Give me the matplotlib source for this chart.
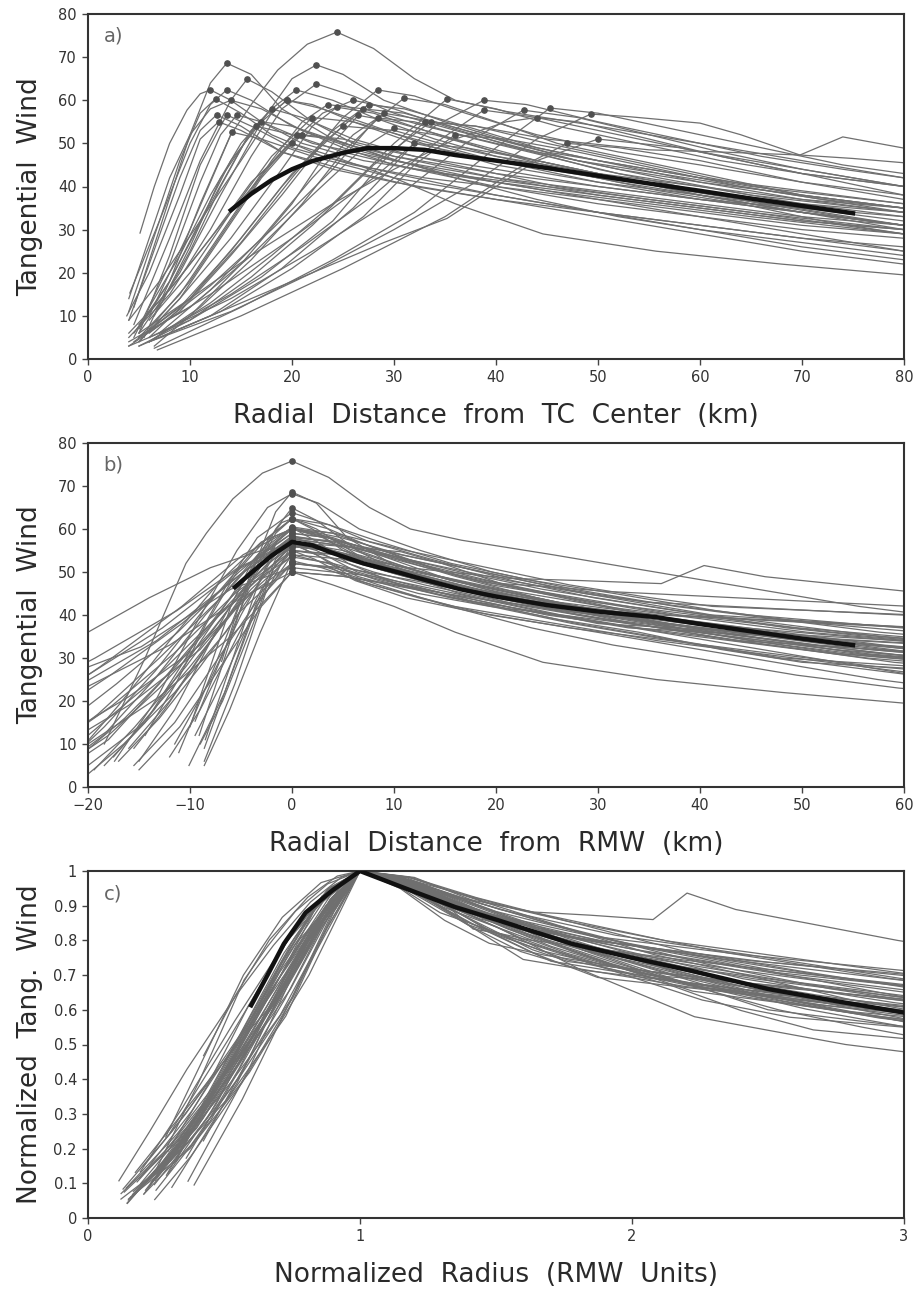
import numpy as np
import matplotlib.pyplot as plt

# storm profiles (tails beyond 80 km read off panels b and c):
# radius (km) knots and tangential wind knots
profile_r = [
    # small RMW storms
    [4.5, 7, 10, 12, 13.6, 16, 19, 24, 30, 40, 50, 60, 70, 80],
    [5.1, 6.5, 8, 9.7, 11, 12, 14, 17, 22, 30, 40, 50, 60, 70, 80],
    [4.1, 7, 10, 12, 13.6, 16, 20, 25, 30, 40, 50, 60, 70, 80],
    [4, 6, 9, 11, 12.5, 15, 18, 23, 30, 40, 50, 60, 70, 80],
    [4.5, 8, 11, 14, 15.6, 18, 22, 26, 30, 40, 50, 60, 70, 80],
    [4, 6, 9, 11, 12.6, 15, 19, 25, 32, 40, 50, 60, 70, 80],
    [5, 8, 11, 13.6, 16, 20, 26, 33, 40, 50, 60, 70, 80],
    [4.5, 8, 11, 13, 14.6, 17, 21, 27, 35, 45, 55, 65, 80],
    [5.5, 8, 11, 14.1, 17, 22, 30, 40, 50, 60, 70, 80],
    [3.8, 6, 9, 11, 12.8, 15, 19, 24, 30, 40, 50, 60, 70, 80],
    [5, 8, 11, 14, 17, 20, 25, 30, 40, 50, 60, 70, 80],
    [6.5, 10, 13, 16, 18, 21, 26, 32, 40, 50, 60, 70, 80],
    [4, 7, 11, 15, 18, 19.5, 22, 26, 32, 40, 50, 60, 70, 80],
    [7, 10, 13, 16.5, 20, 25, 32, 40, 50, 60, 70, 80],
    [4, 6, 8, 10, 12, 14, 17, 21, 27, 35, 45, 55, 65, 80],
    # medium RMW storms
    [6, 10, 14, 16, 18.6, 21.5, 24.4, 28, 32, 36, 41, 50, 60, 70, 80, 90],
    [5, 9, 13, 17, 20, 22.4, 25, 29, 35, 42, 50, 60, 70, 80, 90],
    [4, 8, 12, 16, 19, 22.4, 26, 30, 36, 44, 52, 60, 70, 80, 90],
    [6, 9, 12, 15, 18, 20.4, 24, 28, 34, 40, 50, 60, 70, 80, 90],
    [6, 10, 15, 20, 25, 28.4, 32, 37, 44, 52, 60, 70, 80, 90],
    [4.5, 8, 12, 16, 19.5, 23, 28, 34, 40, 50, 60, 70, 80],
    [5, 9, 14, 19, 22, 24.4, 28, 33, 40, 48, 56, 64, 72, 80, 90],
    [7, 12, 17, 22, 26, 28.4, 32, 38, 45, 52, 60, 70, 80, 90],
    [4, 10, 16, 22, 27, 30, 34, 40, 48, 56, 64, 72, 80, 95],
    [5, 9, 14, 19, 23, 26, 30, 35, 42, 50, 58, 66, 74, 80, 90],
    [6, 10, 14, 18, 22, 26, 32, 40, 50, 60, 70, 80, 90],
    [5, 10, 15, 20, 25, 30, 36, 44, 52, 60, 70, 80, 90],
    [4, 8, 12, 16, 21, 25, 30, 38, 46, 55, 65, 80, 90],
    [4, 9, 14, 19, 23, 27, 31, 37, 45, 55, 65, 80, 90],
    [6, 11, 16, 21, 25, 29, 34, 40, 48, 56, 65, 80, 95],
    [5, 9, 13, 17, 20, 24, 30, 36, 44.6, 55.7, 68, 80, 90],
    [6, 12, 18, 24, 28, 31, 35, 40, 46, 54, 62, 70, 80, 95],
    [6.5, 10, 15, 20, 24, 26.5, 30, 36, 44, 52, 60, 70, 80, 90],
    [5, 9, 13, 17, 20.5, 24, 29, 36, 44, 52, 60, 70, 80, 90],
    [6, 10, 14, 18, 21, 23.5, 27, 33, 40, 48, 56, 64, 72, 80, 90],
    [4.5, 9, 14, 19, 24, 27.5, 31, 37, 44, 52, 60, 70, 80, 90],
    # large RMW storms
    [6, 12, 18, 24, 30, 35.2, 40, 46, 54, 62, 70, 80, 95, 110],
    [5, 12, 20, 28, 34, 38.8, 43, 50, 58, 66, 74, 80, 100, 120],
    [7, 14, 21, 28, 34, 38.8, 44, 52, 60, 70, 80, 100, 120],
    [6, 14, 22, 30, 37, 42.7, 48, 55, 62, 70, 80, 105, 130],
    [6.5, 15, 24, 32, 40, 45.3, 50, 58, 66, 74, 80, 105, 140],
    [6, 14, 22, 30, 38, 44, 49.3, 53, 60, 64, 69.8, 75, 80, 110, 150],
    [5, 10, 16, 22, 28, 33.6, 38, 45, 55, 62, 69.8, 74, 80, 100, 110],
    [4, 10, 17, 24, 29, 33, 38, 45, 53, 61, 70, 80, 95, 100],
    [6, 13, 20, 27, 32, 36, 41, 48, 56, 64, 72, 80, 100, 110],
    [5, 12, 19, 26, 32, 37, 44, 52, 60, 70, 80, 100, 115],
    [6.8, 15, 25, 35, 42, 47, 52, 60, 70, 80, 110, 145],
    [8.7, 15, 22, 29, 35.2, 40, 44, 50, 58, 66, 74, 80, 110, 150],
    [5, 10, 16, 24, 30, 36, 41, 44, 48, 55, 62, 70, 80, 105, 135],
]
profile_v = [
    [12, 30, 52, 64, 68.6, 66, 58, 51, 46, 41, 38, 35, 32, 30],
    [29.2, 40, 50, 57.7, 61.5, 62.4, 60, 55, 50, 46, 42, 39, 36, 33, 31],
    [15.3, 32, 50, 59, 62.4, 60, 54, 49, 45, 40, 36, 33, 30, 28],
    [11, 25, 46, 57, 60.3, 57, 52, 47, 43, 38, 34, 30, 27, 24],
    [8, 28, 46, 60, 64.9, 62, 55, 50, 47, 43, 40, 37, 35, 33],
    [9, 22, 42, 53, 56.6, 54, 48, 44, 40, 37, 33, 29, 25, 22],
    [6, 24, 45, 56.6, 54, 49, 45, 42, 40, 37, 34, 31, 29],
    [5, 22, 41, 52, 56.6, 55, 50, 46, 43, 40, 37, 34, 30],
    [5, 18, 36, 52.6, 51, 47, 42, 38, 34, 31, 28, 25],
    [10, 20, 38, 51, 55, 53, 48, 44, 41, 37, 34, 31, 28, 26],
    [7, 18, 32, 46, 55, 54, 50, 47, 42, 38, 35, 32, 30],
    [10, 25, 40, 53, 58, 56, 51, 47, 44, 40, 37, 34, 31],
    [9, 18, 32, 46, 57, 60, 59, 55, 50, 46, 42, 39, 36, 34],
    [12, 26, 42, 54, 52, 48, 44, 41, 37, 33, 29, 25],
    [14, 28, 42, 52, 58, 60, 58, 53, 48, 43, 39, 36, 33, 29],
    [10, 30, 52, 59, 67, 73, 75.8, 72, 65, 60, 57.4, 54, 50, 46, 42, 39],
    [6, 20, 38, 55, 65, 68.2, 66, 60, 55, 50, 46, 42, 39, 36, 34],
    [5, 15, 30, 47, 58, 63.8, 61, 57, 53, 48, 44, 41, 38, 35, 33],
    [12, 24, 38, 50, 58, 62.4, 60, 56, 51, 47, 43, 40, 37, 35, 33],
    [5, 14, 27, 42, 56, 62.4, 61, 57, 52, 48, 45, 41, 38, 36],
    [6, 18, 36, 53, 60, 58, 54, 49, 45, 41, 38, 35, 32],
    [4, 14, 28, 44, 54, 58.4, 57, 53, 48, 44, 40, 37, 34, 31, 29],
    [6, 16, 28, 42, 52, 55.9, 55, 51, 47, 43, 40, 36, 33, 31],
    [4, 12, 24, 38, 49, 53.5, 52, 48, 43, 39, 36, 32, 29, 27],
    [8, 19, 34, 48, 57, 60, 58, 54, 49, 44, 40, 36, 33, 31, 29],
    [9, 20, 34, 47, 56, 55, 51, 46, 41, 37, 34, 31, 29],
    [5, 14, 28, 43, 54, 53, 49, 45, 41, 38, 34, 31, 29],
    [6, 16, 28, 41, 52, 51, 48, 44, 40, 37, 34, 29, 27],
    [3, 11, 24, 38, 50, 58, 57, 53, 48, 44, 40, 36, 34],
    [4, 12, 23, 36, 48, 57, 55, 51, 46, 42, 38, 34, 31],
    [4, 14, 28, 42, 50, 47, 42, 36, 29, 25, 22, 19.5, 18],
    [6, 17, 30, 44, 55, 60.5, 59, 55, 50, 46, 42, 38, 35, 33],
    [3, 10, 22, 36, 50, 56.5, 55, 51, 46, 42, 38, 34, 31, 29],
    [5, 15, 29, 43, 52, 51, 47, 42, 37, 33, 30, 26, 23, 21],
    [7, 18, 32, 46, 55, 59, 58, 54, 50, 46, 43, 40, 37, 35, 33],
    [4, 12, 25, 40, 53, 59, 58, 54, 49, 45, 41, 37, 34, 32],
    [4, 13, 24, 36, 50, 60.3, 58, 54, 50, 46, 43, 40, 37, 35],
    [5, 15, 28, 42, 54, 60, 59, 55, 51, 47, 44, 42, 40, 37],
    [6, 15, 26, 38, 50, 57.7, 56, 52, 48, 44, 40, 37, 34],
    [5, 14, 25, 37, 50, 57.7, 56, 52, 48, 44, 40, 37, 34],
    [2.5, 12, 23, 34, 49, 58.2, 57, 53, 49, 45, 43, 40, 36],
    [4, 11, 20, 30, 41, 51, 56.8, 56.2, 54.7, 52, 47.3, 46.5, 45.5, 42, 38],
    [3, 9, 19, 31, 45, 55, 54, 51, 48.5, 48, 47.3, 51.5, 48.9, 44, 42],
    [3, 9, 19, 32, 46, 55, 54, 50, 46, 42, 38, 35, 32, 31],
    [4, 11, 21, 33, 45, 52, 51, 48, 44, 40, 37, 34, 31, 30],
    [3, 10, 21, 35, 50, 49, 46, 42, 38, 34, 30, 27, 26],
    [2.1, 10, 21, 33, 44, 50, 49, 46, 41, 37, 33, 29],
    [6.7, 13, 20, 27, 32.6, 40, 46, 51, 49, 45, 41, 38, 34, 31],
    [6, 14, 24, 36, 44, 51, 55, 56, 55, 51, 47, 43, 40, 37, 34],
]

# composite mean profiles (thick black curves)
mean_a_r = [14, 16, 18, 20, 22, 25, 27.4, 30, 33, 36, 40, 45, 50, 55, 60, 65, 70, 75]
mean_a_v = [34.5, 38.3, 41.5, 44, 45.9, 47.8, 48.9, 48.9, 48.5, 47.3, 46, 44.3, 42.5,
            40.7, 39.0, 37.2, 35.5, 33.8]
mean_b_x = [-5.6, -4, -2, 0, 2, 4, 7, 10.6, 13, 16.5, 20, 25, 30, 35.7, 40, 45, 50, 55]
mean_b_v = [46.5, 49.8, 53.8, 57, 56.2, 54.4, 52, 49.8, 48.2, 46, 44.3, 42.3, 40.8,
            39.5, 37.9, 36.2, 34.5, 33]
mean_c_x = [0.6, 0.66, 0.72, 0.8, 0.9, 1.0, 1.1, 1.2, 1.35, 1.5, 1.78, 2.0, 2.21, 2.5,
            2.75, 3.0]
mean_c_v = [0.613, 0.70, 0.79, 0.88, 0.945, 1.0, 0.97, 0.94, 0.896, 0.86, 0.79, 0.75,
            0.714, 0.66, 0.625, 0.592]

LINE = "#6f6f6f"
TXT = "#2a2a2a"

fig = plt.figure(figsize=(9.16, 12.93), dpi=100)
W, H = 916, 1293
def box(top, bottom):
    return [88 / W, (H - bottom) / H, 816 / W, (bottom - top) / H]

ax_a = fig.add_axes(box(14, 359))
ax_b = fig.add_axes(box(443, 787))
ax_c = fig.add_axes(box(871, 1218))

for r, v in zip(profile_r, profile_v):
    r = np.array(r, float)
    v = np.array(v, float)
    k = np.argmax(v)
    rm, vm = r[k], v[k]
    ax_a.plot(r, v, color=LINE, lw=0.9, zorder=2)
    ax_a.plot(rm, vm, "o", color="#505050", ms=3.8, zorder=3)
    ax_b.plot(r - rm, v, color=LINE, lw=0.9, zorder=2)
    ax_b.plot(0, vm, "o", color="#505050", ms=3.8, zorder=3)
    ax_c.plot(r / rm, v / vm, color=LINE, lw=0.9, zorder=2)

ax_a.plot(mean_a_r, mean_a_v, color="#111111", lw=3.2, zorder=4)
ax_b.plot(mean_b_x, mean_b_v, color="#111111", lw=3.2, zorder=4)
ax_c.plot(mean_c_x, mean_c_v, color="#111111", lw=3.2, zorder=4)

ax_a.set_xlim(0, 80)
ax_a.set_ylim(0, 80)
ax_a.set_xticks(range(0, 81, 10))
ax_a.set_yticks(range(0, 81, 10))

ax_b.set_xlim(-20, 60)
ax_b.set_ylim(0, 80)
ax_b.set_xticks(range(-20, 61, 10))
ax_b.set_yticks(range(0, 81, 10))

ax_c.set_xlim(0, 3)
ax_c.set_ylim(0, 1)
ax_c.set_xticks([0, 1, 2, 3])
ax_c.set_yticks(np.arange(0, 1.01, 0.1))
ax_c.set_yticklabels(["0", "0.1", "0.2", "0.3", "0.4", "0.5", "0.6", "0.7", "0.8", "0.9", "1"])

xlabels = ["Radial  Distance  from  TC  Center  (km)",
           "Radial  Distance  from  RMW  (km)",
           "Normalized  Radius  (RMW  Units)"]
ylabels = ["Tangential  Wind", "Tangential  Wind", "Normalized  Tang.  Wind"]
letters = ["a)", "b)", "c)"]

for ax, xl, yl, lt in zip([ax_a, ax_b, ax_c], xlabels, ylabels, letters):
    for s in ax.spines.values():
        s.set_linewidth(1.5)
        s.set_color("#333333")
    ax.tick_params(direction="out", length=4, width=1, color="#444444",
                   labelsize=10.5, labelcolor="#333333", pad=4)
    ax.set_xlabel(xl, fontsize=19, color=TXT)
    ax.xaxis.set_label_coords(0.5, -0.165)
    ax.xaxis.label.set_verticalalignment("center")
    ax.set_ylabel(yl, fontsize=19, color=TXT)
    ax.yaxis.set_label_coords(-0.071, 0.5)
    ax.yaxis.label.set_verticalalignment("center")
    ax.text(0.031, 0.935, lt, transform=ax.transAxes, fontsize=14, color="#666666",
            ha="center", va="center")

fig.savefig("out.png", dpi=100, facecolor="white")
